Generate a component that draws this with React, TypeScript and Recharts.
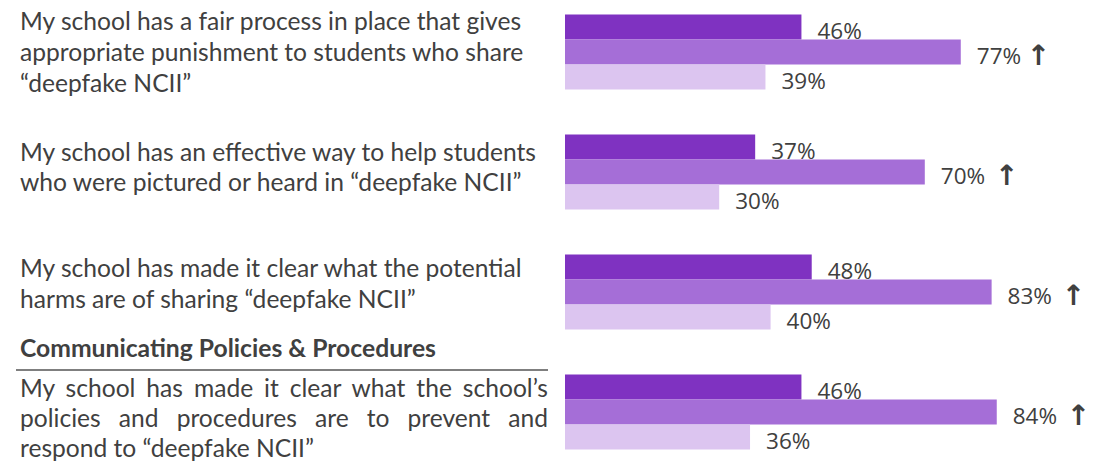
import React from 'react';
import { BarChart, Bar, XAxis, YAxis, LabelList } from 'recharts';

// statement text, one entry per line as it wraps in the original
const statements: string[][] = [
  ['My school has a fair process in place that gives', 'appropriate punishment to students who share', '“deepfake NCII”'],
  ['My school has an effective way to help students', 'who were pictured or heard in “deepfake NCII”'],
  ['My school has made it clear what the potential', 'harms are of sharing “deepfake NCII”'],
  ['My school has made it clear what the school’s', 'policies and procedures are to prevent and', 'respond to “deepfake NCII”'],
];
const sectionTitle = 'Communicating Policies & Procedures';

const seriesA = [46, 37, 48, 46];
const seriesB = [77, 70, 83, 84];
const seriesC = [39, 30, 40, 36];
const upMarks = ['\u2009↑', ' ↑', ' ↑', ' ↑'];

const colors = ['#7F32C1', '#A56ED7', '#DCC5F0'];
const textColor = '#404040';

const data = statements.map((s, i) => ({
  name: s.join(' '),
  a: seriesA[i],
  b: seriesB[i],
  c: seriesC[i],
}));

// layout of the left-hand statement blocks
const blockTops = [5, 137, 252, 373];
const lineHeights = [31, 30, 31, 30];

function ValueLabel(props: any) {
  const { x, y, width, height, value, index, arrow } = props;
  return (
    <text
      x={Number(x) + Number(width) + 16}
      y={Number(y) + Number(height) / 2 + 3}
      dominantBaseline="central"
      fontFamily="'Open Sans', sans-serif"
      fontSize={22.5}
      fill={textColor}
    >
      {value}%
      {arrow && (
        <tspan fontFamily="'DejaVu Sans', sans-serif" fontSize={28} fontWeight={700}>
          {upMarks[index]}
        </tspan>
      )}
    </text>
  );
}

export default function App() {
  return (
    <div
      style={{
        position: 'absolute',
        left: 0,
        top: 0,
        width: 1094,
        height: 467,
        overflow: 'hidden',
        background: '#fff',
        fontFamily: "Lato, 'Open Sans', sans-serif",
        color: textColor,
      }}
    >
      {statements.map((lines, i) => (
        <div
          key={i}
          style={{
            position: 'absolute',
            left: 20,
            top: blockTops[i],
            width: 528,
            fontSize: 24.6,
            lineHeight: `${lineHeights[i]}px`,
          }}
        >
          {lines.map((ln, j) => (
            <div
              key={j}
              style={{
                whiteSpace: 'nowrap',
                textAlign: 'left',
                textAlignLast: i === 3 && j < lines.length - 1 ? 'justify' : 'left',
              }}
            >
              {ln}
            </div>
          ))}
        </div>
      ))}

      <div
        style={{
          position: 'absolute',
          left: 20,
          top: 336,
          fontSize: 24.7,
          fontWeight: 700,
          lineHeight: '24px',
        }}
      >
        {sectionTitle}
      </div>
      <div
        style={{
          position: 'absolute',
          left: 16,
          top: 369,
          width: 532,
          height: 2,
          background: '#7f7f7f',
        }}
      />

      <div style={{ position: 'absolute', left: 565, top: -8 }}>
        <BarChart
          width={529}
          height={480}
          data={data}
          layout="vertical"
          margin={{ top: 0, right: 15, bottom: 0, left: 0 }}
          barCategoryGap={22.5}
          barGap={0}
          style={{ overflow: 'visible' }}
        >
          <XAxis type="number" domain={[0, 100]} hide />
          <YAxis type="category" dataKey="name" hide />
          <Bar dataKey="a" fill={colors[0]} isAnimationActive={false}>
            <LabelList dataKey="a" content={(p: any) => <ValueLabel {...p} />} />
          </Bar>
          <Bar dataKey="b" fill={colors[1]} isAnimationActive={false}>
            <LabelList dataKey="b" content={(p: any) => <ValueLabel {...p} arrow />} />
          </Bar>
          <Bar dataKey="c" fill={colors[2]} isAnimationActive={false}>
            <LabelList dataKey="c" content={(p: any) => <ValueLabel {...p} />} />
          </Bar>
        </BarChart>
      </div>
    </div>
  );
}
